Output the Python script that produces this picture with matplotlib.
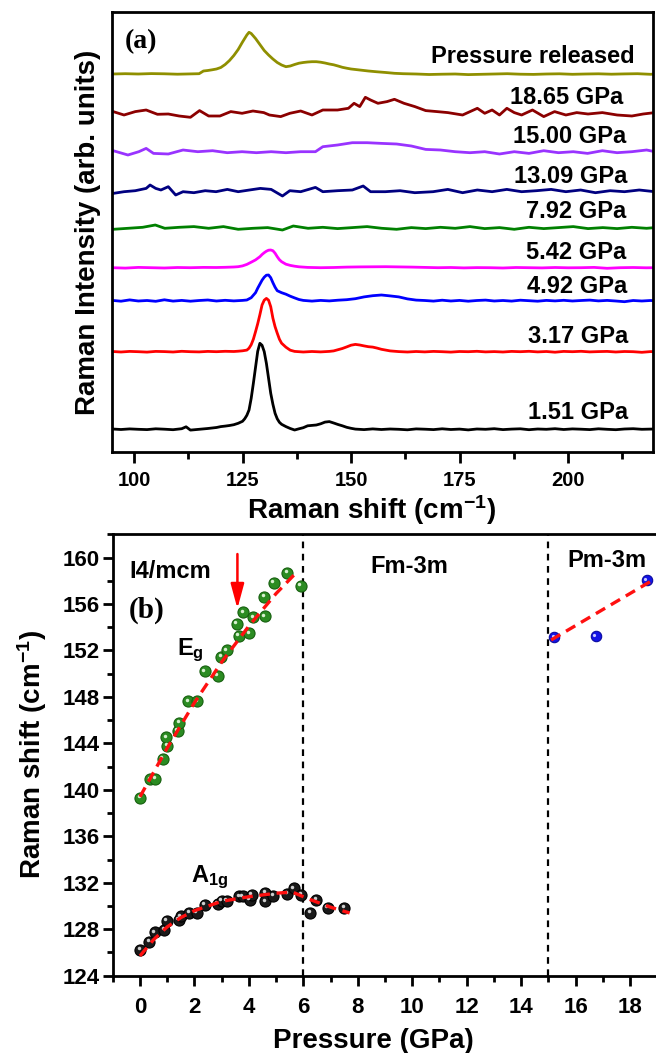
import matplotlib
matplotlib.use('Agg')
import matplotlib.pyplot as plt
from matplotlib.ticker import MultipleLocator
from matplotlib.transforms import offset_copy

plt.rcParams['font.family'] = 'Liberation Sans'
plt.rcParams['font.weight'] = 'bold'
plt.rcParams['axes.labelweight'] = 'bold'
plt.rcParams['mathtext.fontset'] = 'custom'
plt.rcParams['mathtext.rm'] = 'Liberation Sans:bold'
plt.rcParams['mathtext.it'] = 'Liberation Sans:bold'
plt.rcParams['mathtext.bf'] = 'Liberation Sans:bold'
plt.rcParams['axes.linewidth'] = 2

########## (a) Raman spectra, heights above each baseline (arb.) ##########
x_151 = [95, 97, 99, 101, 103, 105, 107, 109, 111, 112, 113, 115, 117,
         119, 120, 121, 122, 123, 124, 125,
         125.5, 126, 126.5, 127, 127.5, 128, 128.5, 129, 129.5, 130, 130.5, 131, 131.5, 132, 132.5, 133, 133.5,
         134, 135, 136, 137, 138, 139, 140, 141, 142, 143, 144, 145, 146, 147, 148, 149, 150, 151,
         153, 155, 157, 159, 161, 163, 165, 167, 169, 171, 173, 175, 177, 179, 181, 183, 185, 187,
         189, 191, 193, 195, 197, 199, 201, 203, 205, 207, 209, 211, 213, 215, 217, 219, 220]
y_151 = [0.3, -0.2, 0.4, 0.0, -0.3, 0.5, 0.1, -0.4, 0.6, 2.5, -0.8, 0.0, 0.8,
         1.8, 2.7, 3.2, 3.8, 4.6, 6.0, 8.0,
         10.5, 14.0, 19.3, 31, 46, 62, 78, 86, 84, 77.7, 66, 51, 36, 25, 16, 10.5, 7.0,
         5.0, 2.7, 0.8, -0.7, 0.5, 1.6, 3.5, 3.9, 4.3, 5.5, 7.2, 7.7, 6.3, 4.8, 3.5, 2.0, 1.0, 0.2,
         -0.3, 0.4, -0.2, 0.3, 0.0, -0.5, 0.4, 0.1, -0.3, 0.5, -0.2, 0.2, -0.6, 0.3, 0.0, 0.6, -0.3, 0.2,
         0.5, -0.4, 0.3, 0.0, 0.6, -0.2, 0.4, 0.1, -0.3, 0.5, 0.0, -0.4, 0.3, 0.6, 0.0, 0.2, 0.3]

x_317 = [95, 97, 99, 101, 103, 105, 107, 109, 111, 113, 115, 117, 119, 121, 123, 124, 125, 126,
         126.5, 127, 127.5, 128, 128.5, 129, 129.5, 130, 130.5, 131, 131.5, 132, 132.5, 133, 133.5, 134,
         135, 136, 137, 139, 141, 143, 145,
         146, 147, 148, 149, 150, 151, 152, 153, 154, 155, 156, 157, 158, 159,
         161, 163, 165, 167, 169, 171, 173, 175, 177, 179, 181, 183, 185, 187, 189,
         191, 193, 195, 197, 199, 201, 203, 205, 207, 209, 211, 213, 215, 217, 219, 220]
y_317 = [0.2, -0.3, 0.3, 0.0, -0.4, 0.3, 0.1, -0.3, 0.4, 0.0, -0.2, 0.3, 0.0, 0.4, 0.2, 0.5, 0.9, 1.6,
         3.5, 7.0, 12.5, 20, 28, 37, 46.7, 51.5, 53.3, 51.5, 45, 33.5, 25, 18.5, 12.5, 8.5,
         4.5, 1.5, 0.3, -0.3, 0.2, -0.2, 0.3,
         0.8, 2.0, 3.2, 4.8, 6.5, 7.3, 6.7, 5.8, 5.0, 4.6, 3.6, 2.4, 1.6, 0.8,
         0.1, -0.3, 0.2, -0.2, 0.3, 0.0, -0.4, 0.2, 0.0, 0.4, -0.2, 0.1, -0.3, 0.3, 0.0,
         0.4, -0.2, 0.2, -0.5, 0.3, 0.0, 0.4, -0.2, 0.1, 0.3, -0.3, 0.2, 0.0, -0.6, 0.1, 0.0]

x_492 = [95, 97, 99, 101, 103, 105, 107, 109, 111, 113, 115, 117, 119, 121, 123, 125,
         126, 127, 128, 128.5, 129, 129.5, 130, 130.5, 131, 131.5, 132, 132.5, 133,
         134, 135, 136, 137, 138, 139,
         141, 143, 145, 147, 149, 151, 153, 155, 157, 159, 161, 163, 165, 167, 169, 171, 173, 175, 177, 179,
         181, 183, 185, 187, 189, 191, 193, 195, 197, 199, 201, 203, 205, 207, 209, 211, 213, 215, 217, 219, 220]
y_492 = [0.3, -0.5, 0.8, -0.3, 0.2, -0.6, 0.9, -0.4, 0.3, -0.5, 0.2, 0.7, -0.3, 0.4, -0.2, 0.3,
         0.7, 3.0, 8.0, 12.5, 16.5, 20.5, 23.5, 25.5, 25.7, 23, 18, 13.5, 10.0,
         8.0, 6.5, 4.5, 2.8, 1.2, 0.3,
         -0.4, 0.3, -0.2, 0.5, 1.0, 2.0, 3.8, 5.0, 5.7, 4.8, 3.8, 1.8, 0.6, 0.2, -0.4, 0.5, -0.3, 0.3, -0.5, 0.2,
         0.6, -0.3, 0.2, -0.4, 0.5, 0.0, -0.5, 0.3, -0.2, 0.4, -0.3, 0.2, 0.6, -0.2, 0.3, -0.3, -1.0, 0.2, -0.3, 0.2, 0.0]

x_542 = [95, 98, 101, 104, 107, 110, 113, 116, 119, 121, 123,
         124, 125, 126, 127, 128, 129,
         129.5, 130, 130.5, 131, 131.5, 132, 132.5, 133, 133.5, 134,
         135, 136, 137, 138, 140,
         143, 146, 149, 152, 155, 158, 161, 164, 167, 170, 173, 176, 179, 182, 185, 188, 191,
         194, 197, 200, 203, 206, 209, 212, 215, 218, 220]
y_542 = [0.0, -0.4, 0.3, 0.0, -0.3, 0.2, 0.0, 0.3, 0.2, 0.4, 0.7,
         1.0, 1.8, 3.3, 5.5, 7.8, 11.0,
         13.2, 15.0, 16.5, 17.5, 17.7, 17.0, 14.5, 11.0, 8.0, 6.0,
         3.5, 2.3, 1.5, 0.9, 0.3,
         0.0, 0.2, 0.6, 0.8, 0.9, 1.0, 0.8, 0.6, 0.3, 0.0, 0.2, -0.2, 0.1, 0.0, -0.3, 0.2, 0.0,
         -0.2, 0.2, -0.1, 0.0, 0.3, -0.6, 0.0, 0.2, -0.1, 0.0]

x_792 = [95.2, 98.6, 102.0, 104.9, 107.1, 110.4, 113.8, 117.2, 120.6, 124.0, 127.4, 130.8, 134.2,
         136.7, 140.1, 143.5, 146.9, 150.3, 153.7, 157.1, 160.5, 163.9, 167.2, 170.6, 174.0, 177.4,
         180.8, 184.2, 187.6, 191.0, 194.4, 197.8, 201.2, 204.6, 208.0, 211.3, 214.7, 218.1, 220.0]
y_792 = [-1.0, 0.0, 1.0, 3.3, 0.0, 1.0, 1.7, 0.0, 1.7, -1.0, 0.0, 0.7, -1.7,
         2.3, 0.0, 1.0, -0.3, 0.7, 1.7, 0.0, -1.0, 0.7, -0.3, 1.0, 0.0, 1.7,
         -0.3, 0.7, -1.0, 1.0, -0.3, 0.7, 1.7, -0.3, 0.7, -0.3, 1.0, 0.0, 0.7]

x_1309 = [95.2, 97.7, 100.3, 102.8, 103.7, 105.0, 106.2, 107.9, 109.6, 111.3, 113.8, 116.4, 118.9,
          121.5, 124.0, 126.6, 129.1, 131.6, 134.2, 135.9, 138.4, 141.8, 143.5, 146.9, 150.3, 152.8,
          154.5, 157.9, 161.3, 164.7, 168.9, 172.3, 175.7, 179.1, 182.5, 185.9, 189.3, 192.7, 196.1,
          199.5, 202.9, 206.3, 209.7, 213.0, 216.4, 220.0]
y_1309 = [-1.7, 0.0, 1.0, 3.3, 6.7, 3.3, 1.7, 5.0, -3.3, 0.0, -1.0, 1.0, 0.0,
          2.3, 0.0, 1.7, 3.3, 2.3, -4.3, 1.0, 0.0, 4.3, 0.0, 1.0, 1.7, 5.7,
          0.0, 0.0, 1.0, -1.0, 0.0, 2.3, -1.0, 1.7, 0.0, 2.3, 0.0, 1.0, 2.3,
          0.0, 1.7, -1.0, 1.0, 0.0, 1.7, 0.0]

x_1500 = [95.2, 98.6, 101.1, 102.8, 104.5, 107.9, 111.3, 114.7, 118.1, 121.5, 124.9, 128.2, 131.6,
          135.0, 138.4, 141.8, 143.5, 146.9, 150.3, 153.7, 157.1, 160.5, 163.9, 167.2, 170.6, 174.0,
          177.4, 180.8, 184.2, 187.6, 191.0, 194.4, 197.8, 201.2, 204.5, 207.9, 211.3, 214.7, 218.1, 220.0]
y_1500 = [1.0, -3.3, 0.0, 3.3, -1.7, -2.3, 1.7, 0.0, 1.0, -1.0, 0.0, -1.0, 0.0,
          -1.0, 0.0, 0.0, 5.0, 6.7, 9.0, 9.0, 8.3, 7.7, 5.7, 2.3, 1.7, 0.0,
          -1.0, 0.0, -2.3, 0.0, -1.7, 1.0, -1.0, 0.0, -1.7, 1.0, -1.0, 0.0, 1.7, 0.0]

x_1865 = [95.2, 97.7, 100.3, 102.8, 105.4, 107.9, 110.4, 113.0, 115.1, 117.2, 119.8, 122.3, 124.9,
          127.4, 129.9, 131.2, 133.8, 135.9, 138.4, 141.0, 143.5, 146.9, 149.4, 150.7, 152.0, 153.3,
          154.5, 156.2, 158.3, 160.0, 162.2, 164.7, 167.2, 169.8, 172.3, 175.7, 179.1, 180.8, 182.5,
          184.2, 185.9, 187.6, 189.3, 191.8, 194.4, 196.9, 199.5, 202.0, 204.6, 207.9, 211.3, 214.7,
          217.3, 220.0]
y_1865 = [1.7, -1.7, 1.7, 3.3, -1.0, -0.7, -2.7, -4.0, 2.7, -2.7, -2.7, 1.7, 0.0,
          2.3, 0.7, -1.7, -3.3, 0.0, 2.3, -1.7, 3.3, 3.3, 5.0, 10.0, 6.7, 16.0,
          13.3, 10.0, 11.7, 14.0, 10.0, 6.7, 2.7, 1.7, 0.7, -1.7, 5.0, 0.0, 3.3,
          -1.7, 5.0, 0.7, -1.7, 3.3, -3.3, 1.7, -1.7, 0.7, -0.7, 0.7, -1.7, -2.7,
          -0.7, 0.7]

x_rel = [95, 98, 101, 104, 107, 110, 113,
         115, 116, 117, 118, 119, 120, 121, 122, 123, 124,
         125, 125.5, 126, 126.5, 127, 127.5, 128, 128.5, 129,
         130, 131, 132, 133, 134, 135, 136, 137, 138, 139, 140, 141, 142, 143, 144, 145, 146, 147, 148, 149, 150,
         152, 154, 156, 158, 160, 162,
         165, 168, 171, 174, 177, 180, 183, 186, 189, 192, 195, 198, 201, 204, 207, 210, 213, 216, 219, 220]
y_rel = [0.0, 0.3, 0.0, 0.4, 0.2, -0.2, 0.1,
         0.3, 3.0, 3.5, 4.2, 5.0, 6.5, 9.5, 13.5, 18.5, 24.5,
         32.0, 35.5, 39.0, 41.7, 40.5, 38.0, 35.5, 32.5, 29.5,
         23.5, 19.0, 15.0, 11.5, 9.0, 7.3, 8.0, 9.5, 10.8, 11.5, 12.0, 12.3, 12.3, 11.8, 11.0, 10.0, 9.2, 8.0, 6.7, 5.8, 5.0,
         4.0, 3.0, 2.2, 1.5, 0.7, 0.3,
         0.0, -0.5, -0.2, 0.0, -0.6, -0.3, 0.0, 0.3, -0.2, -0.4, 0.0, 0.2, -0.3, 0.0, 0.2, -0.2, 0.1, 0.3, -0.3, 0.0]

spec_x = [x_151, x_317, x_492, x_542, x_792, x_1309, x_1500, x_1865, x_rel]
spec_y = [y_151, y_317, y_492, y_542, y_792, y_1309, y_1500, y_1865, y_rel]
spec_labels = ['1.51 GPa', '3.17 GPa', '4.92 GPa', '5.42 GPa', '7.92 GPa',
               '13.09 GPa', '15.00 GPa', '18.65 GPa', 'Pressure released']
spec_colors = ['black', '#FF0000', '#0000FF', '#FF00FF', '#008000',
               '#000080', '#9933FF', '#8B0000', '#8F8F00']

########## (b) peak positions vs pressure ##########
eg_p = [0.01, 0.38, 0.56, 0.85, 1.01, 0.97, 1.38, 1.45, 1.77, 2.11, 2.39, 2.85,
        2.99, 3.18, 3.56, 3.62, 3.79, 4.02, 4.17, 4.59, 4.57, 4.91, 5.41, 5.90]
eg_w = [139.33, 140.90, 140.96, 142.66, 143.77, 144.52, 145.06, 145.75, 147.62, 147.64, 150.20, 149.82,
        151.45, 152.03, 154.32, 153.26, 155.27, 153.46, 154.87, 154.95, 156.61, 157.82, 158.68, 157.56]
eg_fit_p = [0, 1, 2, 3, 4, 5, 5.7]
eg_fit_w = [139.4, 143.6, 147.5, 151.0, 154.1, 156.9, 158.6]

a1g_p = [0.01, 0.35, 0.55, 0.89, 0.98, 1.42, 1.50, 1.81, 2.08, 2.39, 2.85, 3.00, 3.19, 3.65,
         3.77, 4.03, 4.11, 4.60, 4.61, 4.90, 5.41, 5.64, 5.92, 6.25, 6.48, 6.90, 7.51]
a1g_w = [126.23, 126.92, 127.72, 127.95, 128.73, 128.81, 129.10, 129.39, 129.39, 130.10, 130.19, 130.47,
         130.45, 130.82, 130.82, 130.53, 130.96, 131.16, 130.39, 130.88, 131.05, 131.54, 130.96, 129.44,
         130.53, 129.87, 129.82]
a1g_fit_p = [0, 0.5, 1, 1.5, 2, 3, 4, 5, 5.6, 6.2, 7, 7.7]
a1g_fit_w = [125.7, 127.1, 128.2, 129.0, 129.6, 130.4, 130.8, 131.1, 131.2, 130.6, 129.9, 129.4]

pm_p = [15.22, 16.75, 18.62]
pm_w = [153.12, 153.23, 158.05]
pm_fit_p = [15.1, 18.83]
pm_fit_w = [152.9, 158.05]

phase_bounds = [6, 15]

#################### plot ####################
W, H = 656, 1053
fig = plt.figure(figsize=(W / 100, H / 100), dpi=100)

# ---- panel (a)
ax1 = fig.add_axes([112.3 / W, 1 - 452.3 / H, 540.4 / W, 440 / H])
baselines = [23.0, 100.6, 151.6, 184.6, 224.0, 260.6, 300.6, 339.0, 378.3]
label_pos = [(213.9, 33), (213.8, 109), (213.7, 159), (213.5, 193), (213.5, 234),
             (213.7, 269), (213.5, 309.6), (212.7, 348.3), (215.4, 389.6)]
for i in range(len(spec_x)):
    ax1.plot(spec_x[i], [baselines[i] + v for v in spec_y[i]], color=spec_colors[i], lw=2.0)
    ax1.text(label_pos[i][0], label_pos[i][1], spec_labels[i], ha='right', va='baseline', fontsize=17)
ax1.text(97.9, 404, '(a)', family='Liberation Serif', fontsize=20, fontweight='bold', va='baseline')
ax1.set_xlim(95, 219.5)
ax1.set_ylim(0, 440)
ax1.set_yticks([])
ax1.xaxis.set_major_locator(MultipleLocator(25))
ax1.xaxis.set_minor_locator(MultipleLocator(12.5))
ax1.tick_params(axis='x', which='major', direction='out', length=8, width=2, labelsize=14.5, pad=5.5)
ax1.tick_params(axis='x', which='minor', direction='out', length=5, width=2)
ax1.set_xlabel('Raman shift (cm$^{-1}$)', fontsize=20, fontweight='bold', va='baseline')
ax1.xaxis.set_label_coords(0.48, -0.152)
ax1.set_ylabel('Raman Intensity (arb. units)', fontsize=20, fontweight='bold', va='center')
ax1.yaxis.set_label_coords(-0.045, 0.5)

# ---- panel (b)
ax2 = fig.add_axes([112.7 / W, 1 - 975.7 / H, 544.6 / W, 441.4 / H])
for xb in phase_bounds:
    ax2.axvline(xb, color='black', lw=1.6, ls=(0, (3, 2.5)), zorder=1)

hl = offset_copy(ax2.transData, fig=fig, x=-1.6, y=1.6, units='dots')
ax2.plot(eg_p, eg_w, 'o', ms=8, color='#2b8c22', mec='#17600f', mew=0.8, zorder=3)
ax2.plot(eg_p, eg_w, 'o', ms=2.5, color='#d8f0d0', mec='none', transform=hl, zorder=4)
ax2.plot(a1g_p, a1g_w, 'o', ms=8, color='#1a1a1a', mec='black', mew=0.8, zorder=3)
ax2.plot(a1g_p, a1g_w, 'o', ms=2.5, color='#cfcfcf', mec='none', transform=hl, zorder=4)
ax2.plot(pm_p, pm_w, 'o', ms=7.5, color='#1414e6', mec='#0a0aa0', mew=0.8, zorder=3)
ax2.plot(pm_p, pm_w, 'o', ms=2.3, color='#c8c8ff', mec='none', transform=hl, zorder=4)

fit_ls = (0, (3.2, 2.0))
ax2.plot(eg_fit_p, eg_fit_w, color='#FF1010', lw=2.4, ls=fit_ls, zorder=5)
ax2.plot(a1g_fit_p, a1g_fit_w, color='#FF1010', lw=2.4, ls=fit_ls, zorder=5)
ax2.plot(pm_fit_p, pm_fit_w, color='#FF1010', lw=2.4, ls=fit_ls, zorder=5)

ax2.annotate('', xy=(3.58, 155.6), xytext=(3.58, 160.3),
             arrowprops=dict(arrowstyle='-|>,head_length=1.0,head_width=0.27',
                             color='red', lw=1.8, mutation_scale=15, shrinkA=0, shrinkB=0))

ax2.text(-0.4, 158.2, 'I4/mcm', fontsize=17, va='baseline')
ax2.text(-0.42, 154.8, '(b)', family='Liberation Serif', fontsize=21, fontweight='bold', va='baseline')
ax2.text(1.35, 151.6, 'E$_{g}$', fontsize=17, va='baseline')
ax2.text(1.87, 132.1, 'A$_{1g}$', fontsize=17, va='baseline')
ax2.text(9.9, 158.7, 'Fm-3m', fontsize=17, ha='center', va='baseline')
ax2.text(17.14, 159.2, 'Pm-3m', fontsize=17, ha='center', va='baseline')

ax2.set_xlim(-1, 19)
ax2.set_ylim(124, 162)
ax2.xaxis.set_major_locator(MultipleLocator(2))
ax2.xaxis.set_minor_locator(MultipleLocator(1))
ax2.yaxis.set_major_locator(MultipleLocator(4))
ax2.yaxis.set_minor_locator(MultipleLocator(2))
ax2.tick_params(which='major', direction='out', length=7, width=2, labelsize=16)
ax2.tick_params(which='minor', direction='out', length=4.5, width=2)
ax2.tick_params(axis='x', which='major', pad=8)
ax2.tick_params(axis='y', which='major', pad=2.5)
ax2.set_xlabel('Pressure (GPa)', fontsize=20, fontweight='bold', va='baseline')
ax2.xaxis.set_label_coords(0.478, -0.1638)
ax2.set_ylabel('Raman shift (cm$^{-1}$)', fontsize=20, fontweight='bold', va='center')
ax2.yaxis.set_label_coords(-0.148, 0.5)

fig.savefig('out.png', dpi=100)
